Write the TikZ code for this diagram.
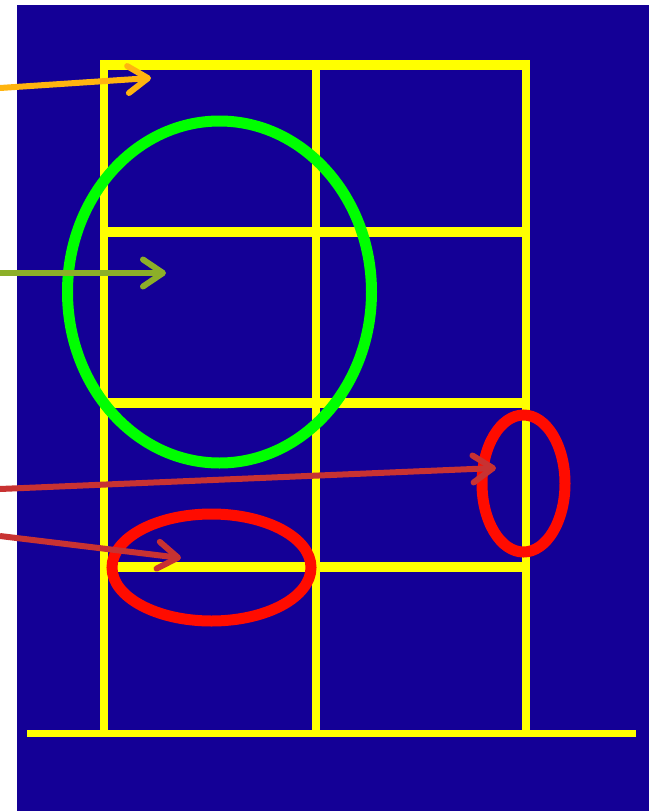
\documentclass[tikz,border=0pt]{standalone}
\usetikzlibrary{arrows.meta,shapes.geometric}
\definecolor{bg}{RGB}{20,0,150}
\definecolor{fy}{RGB}{255,255,0}
\definecolor{gr}{RGB}{0,255,0}
\definecolor{rd}{RGB}{255,12,0}
\definecolor{orng}{RGB}{255,180,15}
\definecolor{olv}{RGB}{140,175,40}
\definecolor{drd}{RGB}{200,50,50}
\begin{document}
\begin{tikzpicture}[x=1pt,y=-1pt,
  vbar/.style={draw=fy,line width=7.5pt},
  hbar/.style={draw=fy,line width=10pt},
  ring/.style={ellipse,draw,line width=11pt,inner sep=0pt},
  pointer/.style={line width=6pt,-{Straight Barb[length=20pt,width=27pt,round]}}]
\useasboundingbox (0,0) rectangle (656,811);
\fill[bg] (17,5) rectangle (649,811);
% frame
\coordinate (bl) at (104,733);
\coordinate (tl) at (104,60);
\coordinate (tr) at (526,60);
\coordinate (br) at (526,733);
\coordinate (tm) at (316,60);
\coordinate (bm) at (316,733);
\coordinate (tl2) at (100.25,65);
\coordinate (tr2) at (529.75,65);
\draw[vbar] (bl) -- (tl);
\draw[vbar] (br) -- (tr);
\draw[vbar] (tm) -- (bm);
\draw[hbar] (tl2) -- (tr2);
\foreach \yy/\nm in {232/a,403/b,567/c}{
  \coordinate (l\nm) at (104,\yy);
  \coordinate (r\nm) at (526,\yy);
  \draw[hbar] (l\nm) -- (r\nm);
}
\coordinate (gl) at (27,733);
\coordinate (gr) at (636,733);
\draw[draw=fy,line width=7pt] (gl) -- (gr);
% rings
\node[ring,draw=gr,minimum width=304pt,minimum height=342pt] (big) at (219.5,292) {};
\node[ring,draw=rd,minimum width=83pt,minimum height=137pt] (rr) at (523.5,483.5) {};
\node[ring,draw=rd,minimum width=199pt,minimum height=107pt] (lr) at (211.5,567.5) {};
% pointers
\coordinate (s1) at (0,88);   \coordinate (e1) at (151,78);
\coordinate (s2) at (0,273);  \coordinate (e2) at (166,273);
\coordinate (s3) at (0,489);  \coordinate (e3) at (496,468);
\coordinate (s4) at (0,536);  \coordinate (e4) at (181,558);
\draw[pointer,orng] (s1) -- (e1);
\draw[pointer,olv] (s2) -- (e2);
\draw[pointer,drd] (s3) -- (e3);
\draw[pointer,drd] (s4) -- (e4);
\end{tikzpicture}
\end{document}
